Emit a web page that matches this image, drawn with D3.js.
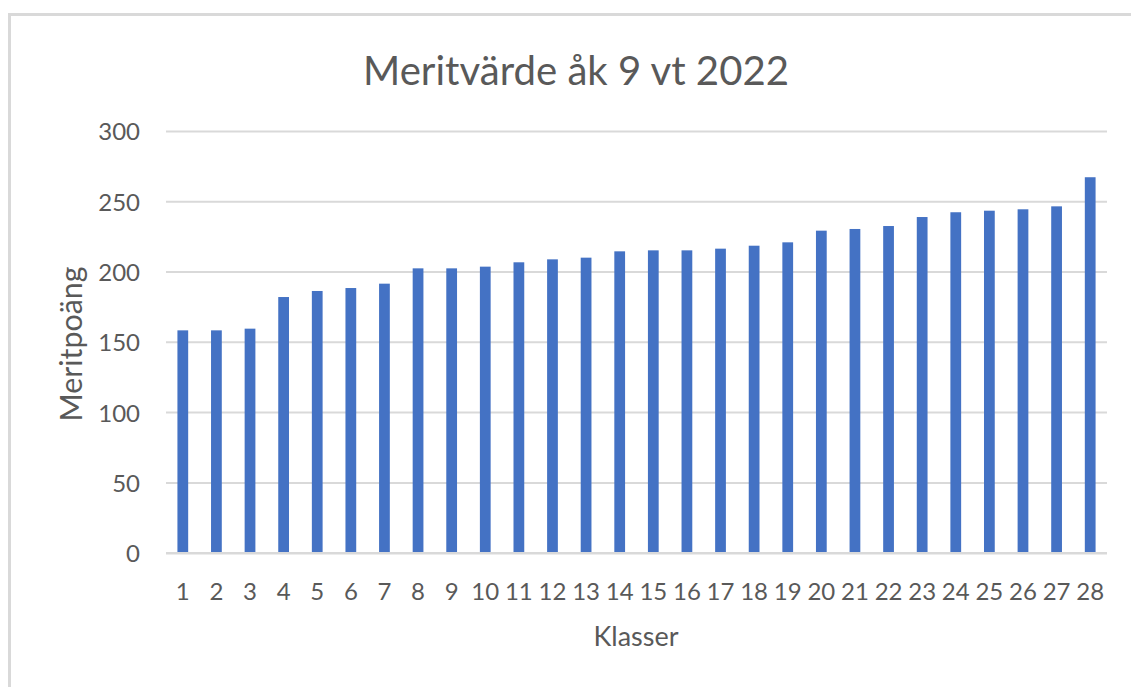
<!DOCTYPE html>
<html>
<head>
<meta charset="utf-8">
<script src="https://cdn.jsdelivr.net/npm/d3@7"></script>
<style>
  html, body { margin: 0; padding: 0; background: #ffffff; }
  svg { display: block; font-family: Lato, "Open Sans", sans-serif; }
</style>
</head>
<body>
<svg id="chart" width="1131" height="687"></svg>
<script>
const categories = ["1","2","3","4","5","6","7","8","9","10","11","12","13","14","15","16","17","18","19","20","21","22","23","24","25","26","27","28"];
const values = [158.5,158.5,159.7,182.2,186.5,188.6,191.7,202.6,202.6,203.8,206.9,209.0,210.2,214.7,215.4,215.4,216.6,218.7,221.1,229.4,230.6,232.7,239.1,242.5,243.6,244.6,246.7,267.4];
const yTicks = [0,50,100,150,200,250,300];
const titleText = "Meritvärde åk 9 vt 2022";
const xTitle = "Klasser";
const yTitle = "Meritpoäng";

(function () {
const svg = d3.select("#chart");
const textColor = "#595959";
const gridColor = "#d9d9d9";
const barColor = "#4472c4";

// outer frame
svg.append("path")
  .attr("d", "M9.5,687 L9.5,14.5 L1131,14.5")
  .attr("fill", "none").attr("stroke", "#d9d9d9").attr("stroke-width", 3);

const pLeft = 166, pRight = 1107, pTop = 131.4, pBottom = 553.2;

const x = d3.scaleBand().domain(categories).range([pLeft, pRight]).paddingInner(0.68).paddingOuter(0.34);
const y = d3.scaleLinear().domain([0, 300]).range([pBottom, pTop]);

function fit(sel, w) {
  const len = sel.node().getComputedTextLength();
  const fs = parseFloat(sel.attr("font-size"));
  sel.attr("font-size", fs * w / len);
}

// gridlines
svg.append("g").selectAll("line").data(yTicks.filter(d => d > 0)).join("line")
  .attr("x1", pLeft).attr("x2", pRight)
  .attr("y1", d => y(d)).attr("y2", d => y(d))
  .attr("stroke", gridColor).attr("stroke-width", 2);

// bars
svg.append("g").selectAll("rect").data(values).join("rect")
  .attr("x", (d, i) => x(categories[i]))
  .attr("width", x.bandwidth())
  .attr("y", d => y(d))
  .attr("height", d => y(0) - y(d))
  .attr("fill", barColor);

// x axis line
svg.append("line").attr("x1", pLeft).attr("x2", pRight)
  .attr("y1", y(0)).attr("y2", y(0))
  .attr("stroke", gridColor).attr("stroke-width", 2.5);

// y axis
const yAxis = svg.append("g").attr("transform", `translate(140,0)`)
  .call(d3.axisLeft(y).tickValues(yTicks).tickSize(0).tickPadding(0));
yAxis.select(".domain").remove();
yAxis.selectAll("text").attr("font-size", 24).attr("fill", textColor)
  .attr("font-family", "Lato, sans-serif").attr("dy", "0.35em");

// x axis
const xAxis = svg.append("g").attr("transform", `translate(0,${pBottom})`)
  .call(d3.axisBottom(x).tickSize(0).tickPadding(0));
xAxis.select(".domain").remove();
xAxis.selectAll("text").attr("font-size", 24).attr("fill", textColor)
  .attr("font-family", "Lato, sans-serif").attr("y", 47).attr("dy", 0);

// title
const t = svg.append("text").attr("x", 576).attr("y", 85).attr("text-anchor", "middle")
  .attr("font-size", 38).attr("fill", textColor).text(titleText);
fit(t, 426);

const xt = svg.append("text").attr("x", 636).attr("y", 646).attr("text-anchor", "middle")
  .attr("font-size", 26).attr("fill", textColor).text(xTitle);
fit(xt, 85);

const yt = svg.append("text").attr("transform", "translate(82,344) rotate(-90)")
  .attr("text-anchor", "middle").attr("font-size", 26).attr("fill", textColor).text(yTitle);
fit(yt, 155);
})();
</script>
</body>
</html>
